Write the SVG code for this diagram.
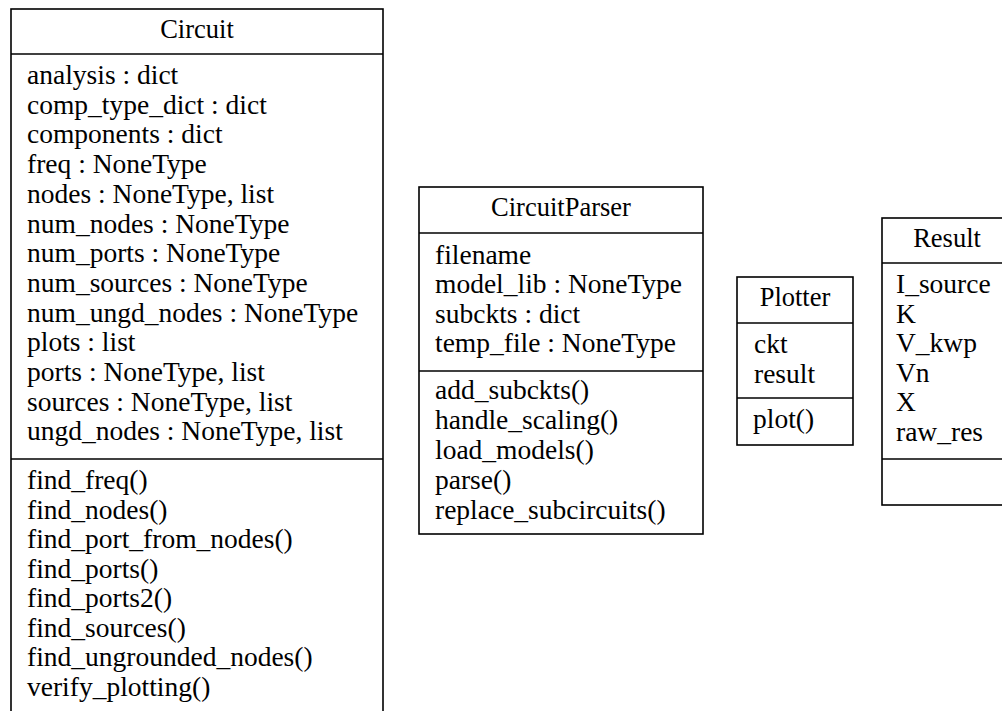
<svg xmlns="http://www.w3.org/2000/svg" width="1002" height="711" viewBox="0 0 1002 711">
<style>
.box{fill:#fff;stroke:#000;stroke-width:1.6}
.div{stroke:#000;stroke-width:1.6}
text{font-family:"Liberation Serif","Times New Roman",serif;font-size:27.5px;fill:#000}
.t{text-anchor:middle;font-size:26.5px}
</style>
<rect width="1002" height="711" fill="#fff"/>
<g id="connectors"></g>
<g id="Circuit">
<rect class="box" x="11" y="9" width="372" height="706"/>
<line class="div" x1="11" y1="54" x2="383" y2="54"/>
<line class="div" x1="11" y1="459" x2="383" y2="459"/>
<text class="t" x="197" y="38">Circuit</text>
<text x="27" y="84">analysis : dict</text>
<text x="27" y="113.7">comp_type_dict : dict</text>
<text x="27" y="143.4">components : dict</text>
<text x="27" y="173.1">freq : NoneType</text>
<text x="27" y="202.8">nodes : NoneType, list</text>
<text x="27" y="232.5">num_nodes : NoneType</text>
<text x="27" y="262.2">num_ports : NoneType</text>
<text x="27" y="291.9">num_sources : NoneType</text>
<text x="27" y="321.6">num_ungd_nodes : NoneType</text>
<text x="27" y="351.3">plots : list</text>
<text x="27" y="381">ports : NoneType, list</text>
<text x="27" y="410.7">sources : NoneType, list</text>
<text x="27" y="440.4">ungd_nodes : NoneType, list</text>
<text x="27" y="489">find_freq()</text>
<text x="27" y="518.5">find_nodes()</text>
<text x="27" y="548">find_port_from_nodes()</text>
<text x="27" y="577.5">find_ports()</text>
<text x="27" y="607">find_ports2()</text>
<text x="27" y="636.5">find_sources()</text>
<text x="27" y="666">find_ungrounded_nodes()</text>
<text x="27" y="695.5">verify_plotting()</text>
</g>
<g id="CircuitParser">
<rect class="box" x="419" y="187" width="284" height="347"/>
<line class="div" x1="419" y1="233" x2="703" y2="233"/>
<line class="div" x1="419" y1="371" x2="703" y2="371"/>
<text class="t" x="561" y="216">CircuitParser</text>
<text x="435" y="264">filename</text>
<text x="435" y="293.3">model_lib : NoneType</text>
<text x="435" y="322.6">subckts : dict</text>
<text x="435" y="352">temp_file : NoneType</text>
<text x="435" y="399">add_subckts()</text>
<text x="435" y="429">handle_scaling()</text>
<text x="435" y="459">load_models()</text>
<text x="435" y="489">parse()</text>
<text x="435" y="519">replace_subcircuits()</text>
</g>
<g id="Plotter">
<rect class="box" x="737" y="277" width="116" height="168"/>
<line class="div" x1="737" y1="323" x2="853" y2="323"/>
<line class="div" x1="737" y1="398" x2="853" y2="398"/>
<text class="t" x="795" y="306">Plotter</text>
<text x="754" y="353">ckt</text>
<text x="754" y="382.5">result</text>
<text x="753" y="428">plot()</text>
</g>
<g id="Result">
<rect class="box" x="882" y="218" width="130" height="287"/>
<line class="div" x1="882" y1="263" x2="1012" y2="263"/>
<line class="div" x1="882" y1="459" x2="1012" y2="459"/>
<text class="t" x="947" y="247">Result</text>
<text x="896" y="293">I_source</text>
<text x="896" y="322.6">K</text>
<text x="896" y="352.2">V_kwp</text>
<text x="896" y="381.8">Vn</text>
<text x="896" y="411.4">X</text>
<text x="896" y="441">raw_res</text>
</g>
</svg>
